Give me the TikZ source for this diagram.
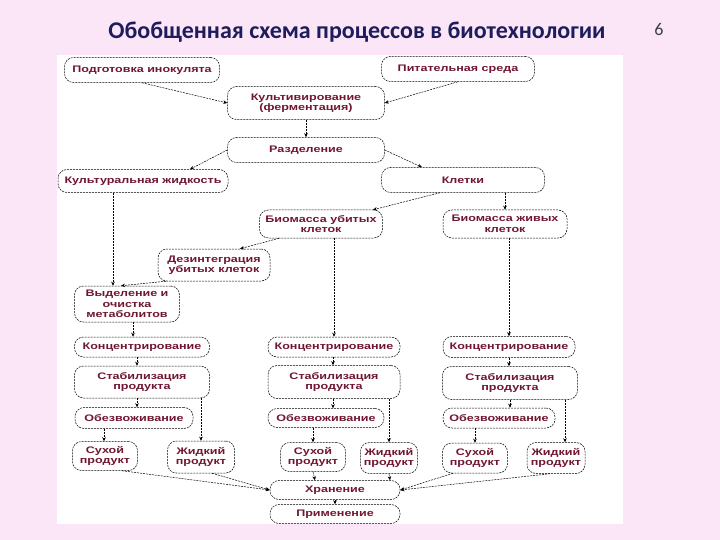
\documentclass[tikz,border=0pt]{standalone}
\usepackage{fontspec}
\setmainfont{Liberation Sans}
\newfontfamily\titlefont{Carlito}
\newfontfamily\stagefont[FakeStretch=1.32]{Liberation Sans}
\usepackage{xcolor}
\usepackage{tikz}
\usetikzlibrary{positioning,calc,arrows.meta}
\definecolor{slidepink}{RGB}{250,230,247}
\definecolor{titleblue}{RGB}{30,28,92}
\definecolor{stagered}{RGB}{112,22,48}
\tikzset{
  stage/.style={draw, line width=0.5pt, dash pattern=on 2pt off 1pt, rounded corners=9pt, fill=white, text=stagered,
    font=\stagefont\bfseries\fontsize{9.5}{10.5}\selectfont, align=center, inner sep=1pt},
  flow/.style={line width=0.5pt, dash pattern=on 2pt off 1pt, -{Stealth[length=4pt,width=3.5pt]}}
}

\begin{document}
\begin{tikzpicture}[x=1pt,y=-1pt]
    \fill[slidepink] (0,0) rectangle (720,540);
    \useasboundingbox (0,0) rectangle (720,540);
    \fill[white] (57,55) rectangle (623,524);

    % Title and slide number
    \node[font=\titlefont\bfseries\fontsize{24}{27}\selectfont, text=titleblue] (title) at (357,32) {Обобщенная схема процессов в биотехнологии};
    \node[font=\titlefont\fontsize{18}{20}\selectfont, text=black!75] (pagenum) at (659,29) {6};

    % Upstream: inoculum + medium -> cultivation -> separation
    \node[stage, minimum width=155pt, minimum height=25pt] (inoculum) at (142,70) {Подготовка инокулята};
    \node[stage, minimum width=153pt, minimum height=25pt] (medium) at (458,69) {Питательная среда};
    \node[stage, minimum width=157pt, minimum height=33pt] (cultivation) at (306,103) {Культивирование\\(ферментация)};
    \node[stage, minimum width=157pt, minimum height=25pt] (separation) at (306,150) {Разделение};
    \node[stage, minimum width=170pt, minimum height=23pt] (fluid) at (143,181) {Культуральная жидкость};
    \node[stage, minimum width=163pt, minimum height=25pt] (cells) at (463,180) {Клетки};

    % Biomass branches
    \node[stage, minimum width=123pt, minimum height=28pt] (killed) at (321,224) {Биомасса убитых\\клеток};
    \node[stage, minimum width=124pt, minimum height=28pt] (living) at (505,224) {Биомасса живых\\клеток};
    \node[stage, minimum width=112pt, minimum height=32pt] (disint) at (214,265) {Дезинтеграция\\убитых клеток};
    \node[stage, minimum width=105pt, minimum height=36pt] (isolate) at (127,304) {Выделение и\\очистка\\метаболитов};

    % Column 1
    \node[stage, minimum width=135pt, minimum height=20pt] (conc1) at (142,347) {Концентрирование};
    \node[stage, minimum width=135pt, minimum height=32pt] (stab1) at (142,382) {Стабилизация\\продукта};
    \node[stage, minimum width=118pt, minimum height=21pt] (dehyd1) at (134,418) {Обезвоживание};
    \node[stage, minimum width=65pt, minimum height=29pt] (dry1) at (105,456) {Сухой\\продукт};
    \node[stage, minimum width=67pt, minimum height=32pt] (liquid1) at (201,457) {Жидкий\\продукт};

    % Column 2
    \node[stage, minimum width=132pt, minimum height=20pt] (conc2) at (334,347) {Концентрирование};
    \node[stage, minimum width=132pt, minimum height=33pt] (stab2) at (334,382) {Стабилизация\\продукта};
    \node[stage, minimum width=116pt, minimum height=19pt] (dehyd2) at (326,418) {Обезвоживание};
    \node[stage, minimum width=65pt, minimum height=29pt] (dry2) at (313,457) {Сухой\\продукт};
    \node[stage, minimum width=57pt, minimum height=31pt] (liquid2) at (389,458) {Жидкий\\продукт};

    % Column 3
    \node[stage, minimum width=132pt, minimum height=21pt] (conc3) at (509,347) {Концентрирование};
    \node[stage, minimum width=135pt, minimum height=33pt] (stab3) at (510,383) {Стабилизация\\продукта};
    \node[stage, minimum width=112pt, minimum height=20pt] (dehyd3) at (499,418) {Обезвоживание};
    \node[stage, minimum width=65pt, minimum height=30pt] (dry3) at (475,458) {Сухой\\продукт};
    \node[stage, minimum width=58pt, minimum height=31pt] (liquid3) at (556,458) {Жидкий\\продукт};

    % Storage and use
    \node[stage, minimum width=130pt, minimum height=19pt] (store) at (335,490) {Хранение};
    \node[stage, minimum width=130pt, minimum height=19pt] (apply) at (335,514) {Применение};

    % Flows, top part
    \draw[flow] (inoculum.south) -- (cultivation.west);
    \draw[flow] (medium.south) -- (cultivation.east);
    \draw[flow] (cultivation.south) -- (separation.north);
    \draw[flow] (separation.west) -- ([xshift=47pt]fluid.north);
    \draw[flow] (separation.east) -- ([xshift=-41pt]cells.north);
    \draw[flow] ([xshift=-23pt]cells.south) -- ([xshift=52pt]killed.north);
    \draw[flow] (living.north |- cells.south) -- (living.north);
    \draw[flow] ([xshift=-42pt]killed.south) -- ([xshift=26pt]disint.north);
    \draw[flow] (conc2.north |- killed.south) -- (conc2.north);
    \draw[flow] (conc3.north |- living.south) -- (conc3.north);

    % Flows, column 1
    \draw[flow] ([xshift=-30pt]fluid.south) -- ([xshift=-14pt]isolate.north);
    \draw[flow] ([xshift=-48pt]disint.south) -- ([xshift=-6pt]isolate.north);
    \draw[flow] ([xshift=6pt]isolate.south) -- ([xshift=-9pt]conc1.north);
    \draw[flow] ([xshift=-5pt]conc1.south) -- ([xshift=-5pt]stab1.north);
    \draw[flow] ([xshift=-5pt]stab1.south) -- ([xshift=3pt]dehyd1.north);
    \draw[flow] ([xshift=-30pt]dehyd1.south) -- ([xshift=-1pt]dry1.north);
    \draw[flow] (liquid1.north |- stab1.south) -- (liquid1.north);

    % Flows, column 2
    \draw[flow] ([xshift=-1pt]conc2.south) -- ([xshift=-1pt]stab2.north);
    \draw[flow] ([xshift=-1pt]stab2.south) -- ([xshift=7pt]dehyd2.north);
    \draw[flow] (dry2.north |- dehyd2.south) -- (dry2.north);
    \draw[flow] (liquid2.north |- stab2.south) -- (liquid2.north);

    % Flows, column 3
    \draw[flow] (conc3.south) -- ([xshift=-1pt]stab3.north);
    \draw[flow] (stab3.south) -- ([xshift=11pt]dehyd3.north);
    \draw[flow] (dry3.north |- dehyd3.south) -- (dry3.north);
    \draw[flow] ([xshift=9pt]liquid3.north |- stab3.south) -- ([xshift=9pt]liquid3.north);

    % Products to storage
    \draw[flow] ([xshift=17pt]dry1.south) -- (store.west);
    \draw[flow] ([xshift=11pt]liquid1.south) -- (store.west);
    \draw[flow] (dry2.south) -- ([xshift=-20pt]store.north);
    \draw[flow] (liquid2.south) -- ([xshift=55pt]store.north);
    \draw[flow] ([xshift=-22pt]dry3.south) -- (store.east);
    \draw[flow] ([xshift=-6pt]liquid3.south) -- (store.east);
    \draw[flow] (store.south) -- (apply.north);
\end{tikzpicture}
\end{document}
